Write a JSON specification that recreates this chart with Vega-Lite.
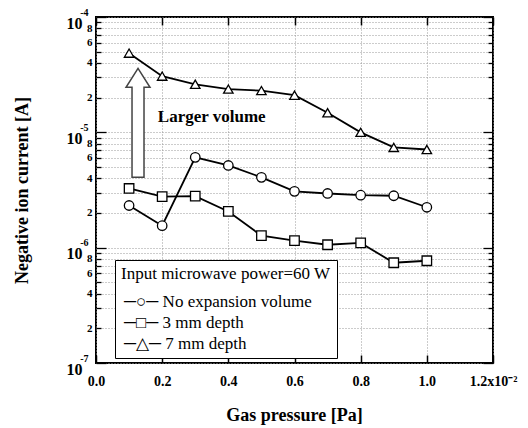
{
  "$schema": "https://vega.github.io/schema/vega-lite/v6.json",
  "width": 397,
  "height": 346,
  "autosize": {"type": "none"},
  "padding": {"left": 96, "top": 17, "right": 35, "bottom": 65},
  "background": "white",
  "config": {"font": "Liberation Serif", "view": {"stroke": "black", "strokeWidth": 2}},
  "datasets": {
    "series": [
      {"p": 0.1, "I": 2.32e-6, "s": "No expansion volume"},
      {"p": 0.2, "I": 1.55e-6, "s": "No expansion volume"},
      {"p": 0.3, "I": 6.07e-6, "s": "No expansion volume"},
      {"p": 0.4, "I": 5.16e-6, "s": "No expansion volume"},
      {"p": 0.5, "I": 4.07e-6, "s": "No expansion volume"},
      {"p": 0.6, "I": 3.08e-6, "s": "No expansion volume"},
      {"p": 0.7, "I": 2.95e-6, "s": "No expansion volume"},
      {"p": 0.8, "I": 2.85e-6, "s": "No expansion volume"},
      {"p": 0.9, "I": 2.82e-6, "s": "No expansion volume"},
      {"p": 1.0, "I": 2.24e-6, "s": "No expansion volume"},
      {"p": 0.1, "I": 3.26e-6, "s": "3 mm depth"},
      {"p": 0.2, "I": 2.77e-6, "s": "3 mm depth"},
      {"p": 0.3, "I": 2.8e-6, "s": "3 mm depth"},
      {"p": 0.4, "I": 2.06e-6, "s": "3 mm depth"},
      {"p": 0.5, "I": 1.27e-6, "s": "3 mm depth"},
      {"p": 0.6, "I": 1.15e-6, "s": "3 mm depth"},
      {"p": 0.7, "I": 1.06e-6, "s": "3 mm depth"},
      {"p": 0.8, "I": 1.1e-6, "s": "3 mm depth"},
      {"p": 0.9, "I": 7.4e-7, "s": "3 mm depth"},
      {"p": 1.0, "I": 7.7e-7, "s": "3 mm depth"},
      {"p": 0.1, "I": 4.86e-5, "s": "7 mm depth"},
      {"p": 0.2, "I": 3.07e-5, "s": "7 mm depth"},
      {"p": 0.3, "I": 2.61e-5, "s": "7 mm depth"},
      {"p": 0.4, "I": 2.37e-5, "s": "7 mm depth"},
      {"p": 0.5, "I": 2.3e-5, "s": "7 mm depth"},
      {"p": 0.6, "I": 2.1e-5, "s": "7 mm depth"},
      {"p": 0.7, "I": 1.48e-5, "s": "7 mm depth"},
      {"p": 0.8, "I": 1.0e-5, "s": "7 mm depth"},
      {"p": 0.9, "I": 7.4e-6, "s": "7 mm depth"},
      {"p": 1.0, "I": 7.1e-6, "s": "7 mm depth"}
    ],
    "notes": [
      {"kind": "arrow", "p": 0.127, "I": 1.21e-5, "label": ""},
      {"kind": "text", "p": 0.187, "I": 1.35e-5, "label": "Larger volume"}
    ]
  },
  "layer": [
    {
      "data": {"name": "series"},
      "mark": {"type": "line", "stroke": "black", "strokeWidth": 1.8},
      "encoding": {
        "x": {
          "field": "p", "type": "quantitative",
          "scale": {"domain": [0, 1.2], "nice": false, "zero": false},
          "axis": {
            "orient": "bottom",
            "values": [0, 0.2, 0.4, 0.6, 0.8, 1.0, 1.2],
            "title": "Gas pressure [Pa]",
            "titleFont": "Liberation Serif", "titleFontSize": 18, "titleFontWeight": "bold", "titleColor": "black",
            "titleX": 198, "titleY": 52, "titleBaseline": "middle", "titleAlign": "center",
            "labelExpr": "datum.value > 1.1 ? '1.2x10⁻²' : format(datum.value, '.1f')",
            "labelFont": "Liberation Serif", "labelFontSize": 14, "labelFontWeight": "bold", "labelColor": "black",
            "labelPadding": 11, "labelFlush": false, "labelOverlap": false, "labelBound": false,
            "ticks": false, "tickSize": 0,
            "domain": false,
            "grid": true, "gridColor": "#999", "gridDash": [1, 2], "gridWidth": 1
          }
        },
        "y": {
          "field": "I", "type": "quantitative",
          "scale": {"type": "log", "domain": [1e-7, 1e-4], "nice": false},
          "axis": {
            "orient": "left",
            "values": [1e-7, 2e-7, 3e-7, 4e-7, 5e-7, 6e-7, 7e-7, 8e-7, 9e-7, 1e-6, 2e-6, 3e-6, 4e-6, 5e-6, 6e-6, 7e-6, 8e-6, 9e-6, 1e-5, 2e-5, 3e-5, 4e-5, 5e-5, 6e-5, 7e-5, 8e-5, 9e-5, 1e-4],
            "title": "Negative ion current [A]",
            "titleFont": "Liberation Serif", "titleFontSize": 18, "titleFontWeight": "bold", "titleColor": "black",
            "titleX": -74, "titleY": 173, "titleAngle": -90, "titleBaseline": "middle", "titleAlign": "center",
            "labelExpr": "slice(format(datum.value, '.0e'), 0, 1) == '1' ? '10' : (indexof(['2', '4', '6', '8'], slice(format(datum.value, '.0e'), 0, 1)) >= 0 ? slice(format(datum.value, '.0e'), 0, 1) : '')",
            "labelFont": "Liberation Serif",
            "labelFontSize": {"condition": {"test": "slice(format(datum.value, '.0e'), 0, 1) == '1'", "value": 16}, "value": 11},
            "labelBaseline": {"condition": {"test": "slice(format(datum.value, '.0e'), 0, 1) == '1'", "value": "top"}, "value": "middle"},
            "labelOffset": {"condition": {"test": "slice(format(datum.value, '.0e'), 0, 1) == '1'", "value": -2}, "value": 0},
            "labelPadding": {"condition": {"test": "slice(format(datum.value, '.0e'), 0, 1) == '1'", "value": 14}, "value": 4},
            "labelFontWeight": "bold", "labelColor": "black",
            "labelFlush": false, "labelOverlap": false, "labelBound": false,
            "ticks": false, "tickSize": 0,
            "domain": false,
            "grid": true, "gridColor": "#999", "gridDash": [1, 2], "gridWidth": 1
          }
        },
        "detail": {"field": "s"}
      }
    },
    {
      "data": {"name": "series"},
      "mark": {"type": "point", "filled": true, "fill": "white", "stroke": "black", "strokeWidth": 1.3, "size": 90, "opacity": 1},
      "encoding": {
        "x": {
          "field": "p", "type": "quantitative",
          "scale": {"domain": [0, 1.2], "nice": false, "zero": false},
          "axis": {
            "orient": "top", "values": [0, 0.2, 0.4, 0.6, 0.8, 1.0, 1.2], "labels": false, "title": null,
            "tickSize": -8, "tickColor": "black", "tickWidth": 1.5, "domain": false, "grid": false
          }
        },
        "y": {
          "field": "I", "type": "quantitative",
          "scale": {"type": "log", "domain": [1e-7, 1e-4], "nice": false},
          "axis": {
            "orient": "right",
            "values": [1e-7, 2e-7, 3e-7, 4e-7, 5e-7, 6e-7, 7e-7, 8e-7, 9e-7, 1e-6, 2e-6, 3e-6, 4e-6, 5e-6, 6e-6, 7e-6, 8e-6, 9e-6, 1e-5, 2e-5, 3e-5, 4e-5, 5e-5, 6e-5, 7e-5, 8e-5, 9e-5, 1e-4],
            "labels": false, "title": null,
            "tickSize": {"condition": {"test": "slice(format(datum.value, '.0e'), 0, 1) == '1'", "value": -10}, "value": -5},
            "tickColor": "black", "tickWidth": 1.3, "domain": false, "grid": false
          }
        },
        "shape": {
          "field": "s", "type": "nominal",
          "scale": {"domain": ["No expansion volume", "3 mm depth", "7 mm depth"], "range": ["circle", "square", "triangle-up"]},
          "legend": {
            "orient": "none", "legendX": 19, "legendY": 243,
            "title": "Input microwave power=60 W",
            "titleFont": "Liberation Serif", "titleFontSize": 17, "titleFontWeight": "normal", "titleColor": "black",
            "titlePadding": 10, "titleLimit": 400,
            "labelExpr": "(datum.value == 'No expansion volume' ? '─○─  ' : datum.value == '3 mm depth' ? '─□─  ' : '─△─  ') + datum.label",
            "labelFont": "Liberation Serif", "labelFontSize": 17, "labelColor": "black", "labelLimit": 400,
            "padding": 6, "strokeColor": "black", "fillColor": "white", "cornerRadius": 0,
            "rowPadding": 3, "symbolSize": 1, "symbolStrokeWidth": 0, "symbolOffset": 0, "labelOffset": -14,
            "symbolFillColor": "transparent", "symbolStrokeColor": "transparent"
          }
        }
      }
    },
    {
      "data": {"name": "notes"},
      "transform": [{"filter": "datum.kind == 'arrow'"}],
      "mark": {"type": "point", "shape": "M0,-1L0.22,-0.651L0.11,-0.651L0.11,1L-0.11,1L-0.11,-0.651L-0.22,-0.651Z", "size": 11881, "filled": true, "fill": "white", "stroke": "#444", "strokeWidth": 1.5, "opacity": 1},
      "encoding": {
        "x": {
          "field": "p", "type": "quantitative", "scale": {"domain": [0, 1.2], "nice": false, "zero": false},
          "axis": {
            "orient": "bottom", "values": [0, 0.2, 0.4, 0.6, 0.8, 1.0, 1.2], "labels": false, "title": null,
            "tickSize": -8, "tickColor": "black", "tickWidth": 1.5, "domain": false, "grid": false
          }
        },
        "y": {
          "field": "I", "type": "quantitative", "scale": {"type": "log", "domain": [1e-7, 1e-4], "nice": false},
          "axis": {
            "orient": "left",
            "values": [1e-7, 2e-7, 3e-7, 4e-7, 5e-7, 6e-7, 7e-7, 8e-7, 9e-7, 1e-6, 2e-6, 3e-6, 4e-6, 5e-6, 6e-6, 7e-6, 8e-6, 9e-6, 1e-5, 2e-5, 3e-5, 4e-5, 5e-5, 6e-5, 7e-5, 8e-5, 9e-5, 1e-4],
            "labels": false, "title": null,
            "tickSize": {"condition": {"test": "slice(format(datum.value, '.0e'), 0, 1) == '1'", "value": -10}, "value": -5},
            "tickColor": "black", "tickWidth": 1.3, "domain": false, "grid": false
          }
        }
      }
    },
    {
      "data": {"name": "notes"},
      "transform": [{"filter": "datum.kind == 'text'"}],
      "mark": {"type": "text", "align": "left", "baseline": "middle", "font": "Liberation Serif", "fontSize": 17, "fontWeight": "bold", "color": "black"},
      "encoding": {
        "x": {"field": "p", "type": "quantitative", "scale": {"domain": [0, 1.2], "nice": false, "zero": false}, "axis": null},
        "y": {
          "field": "I", "type": "quantitative", "scale": {"type": "log", "domain": [1e-7, 1e-4], "nice": false},
          "axis": {
            "orient": "left",
            "values": [1e-7, 1e-6, 1e-5, 1e-4],
            "labelExpr": "'-' + slice(format(datum.value, '.0e'), 3)",
            "labelFont": "Liberation Serif", "labelFontSize": 10, "labelFontWeight": "bold", "labelColor": "black",
            "labelBaseline": "bottom", "labelPadding": 8, "labelOffset": 0,
            "labelFlush": false, "labelOverlap": false, "labelBound": false,
            "ticks": false, "tickSize": 0, "title": null, "domain": false, "grid": false
          }
        },
        "text": {"field": "label"}
      }
    }
  ],
  "resolve": {"axis": {"x": "independent", "y": "independent"}}
}
